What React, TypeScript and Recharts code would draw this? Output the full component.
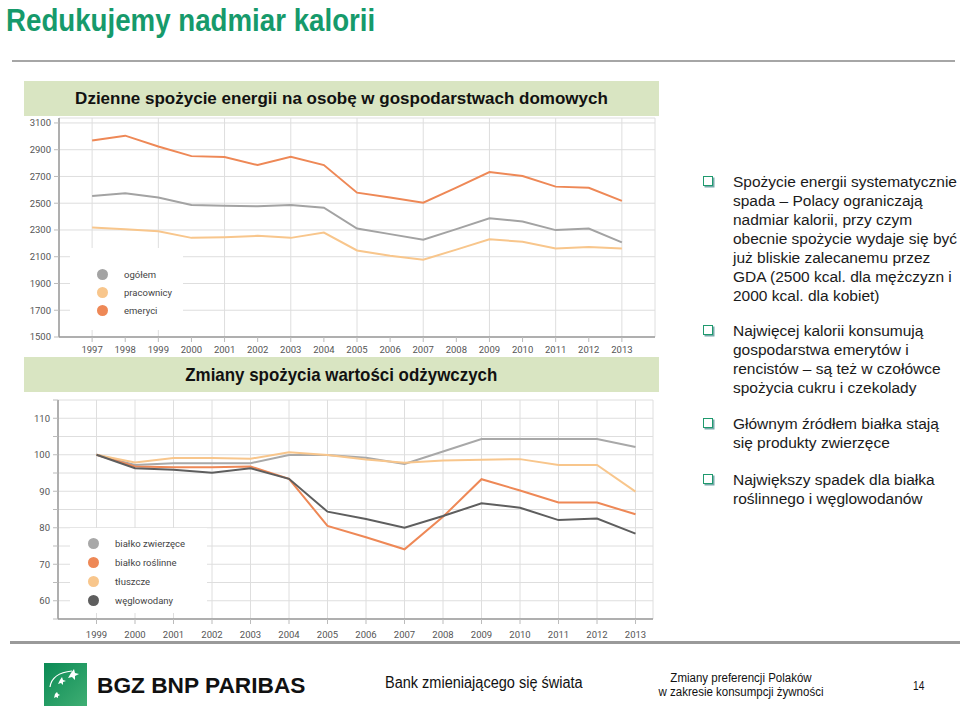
import React from "react";
import { LineChart, Line, XAxis, YAxis, CartesianGrid } from "recharts";

// --- energy intake per person (kcal / day) ---
const years1 = [1997, 1998, 1999, 2000, 2001, 2002, 2003, 2004, 2005, 2006, 2007, 2008, 2009, 2010, 2011, 2012, 2013];
const ogolem = [2554, 2574, 2542, 2487, 2482, 2477, 2487, 2467, 2311, 2269, 2227, 2306, 2388, 2363, 2299, 2311, 2207];
const pracownicy = [2318, 2306, 2291, 2241, 2246, 2256, 2241, 2281, 2147, 2107, 2078, 2153, 2230, 2212, 2162, 2172, 2162];
const emeryci = [2968, 3005, 2924, 2852, 2845, 2785, 2847, 2785, 2579, 2542, 2504, 2617, 2733, 2703, 2624, 2616, 2517];
const energyTicks = [1500, 1700, 1900, 2100, 2300, 2500, 2700, 2900, 3100];

// --- nutrient intake index (1999 = 100) ---
const years2 = [1999, 2000, 2001, 2002, 2003, 2004, 2005, 2006, 2007, 2008, 2009, 2010, 2011, 2012, 2013];
const bialkoZwierzece = [100, 97.2, 97.7, 97.7, 97.7, 99.9, 99.9, 99.2, 97.5, 100.9, 104.3, 104.3, 104.3, 104.3, 102.1];
const bialkoRoslinne = [100, 96.8, 96.6, 96.6, 96.8, 93.4, 80.5, 77.4, 74.1, 83.0, 93.3, 90.2, 86.9, 86.9, 83.7];
const tluszcze = [100, 97.9, 99.1, 99.1, 98.9, 100.7, 99.9, 98.7, 97.8, 98.4, 98.6, 98.8, 97.2, 97.2, 89.9];
const weglowodany = [100, 96.3, 95.9, 95.1, 96.3, 93.4, 84.4, 82.4, 80.0, 83.2, 86.7, 85.5, 82.1, 82.5, 78.4];
const indexTicks = [55, 60, 65, 70, 75, 80, 85, 90, 95, 100, 105, 110, 115];

const energyData = years1.map((year, i) => ({
  year,
  ogolem: ogolem[i],
  pracownicy: pracownicy[i],
  emeryci: emeryci[i],
}));

const nutrientData = years2.map((year, i) => ({
  year,
  zwierzece: bialkoZwierzece[i],
  roslinne: bialkoRoslinne[i],
  tluszcze: tluszcze[i],
  weglowodany: weglowodany[i],
}));

const energySeries = [
  { key: "ogolem", label: "ogółem", color: "#a3a3a3" },
  { key: "pracownicy", label: "pracownicy", color: "#f8c68c" },
  { key: "emeryci", label: "emeryci", color: "#ee8856" },
];

const nutrientSeries = [
  { key: "zwierzece", label: "białko zwierzęce", color: "#a8a8a8" },
  { key: "roslinne", label: "białko roślinne", color: "#ee8856" },
  { key: "tluszcze", label: "tłuszcze", color: "#f8c68c" },
  { key: "weglowodany", label: "węglowodany", color: "#5e5e5e" },
];

const bullets = [
  ["Spożycie energii systematycznie", "spada – Polacy ograniczają", "nadmiar kalorii, przy czym", "obecnie spożycie wydaje się być", "już bliskie zalecanemu przez", "GDA (2500 kcal. dla mężczyzn i", "2000 kcal. dla kobiet)"],
  ["Najwięcej kalorii konsumują", "gospodarstwa emerytów i", "rencistów – są też w czołówce", "spożycia cukru i czekolady"],
  ["Głównym źródłem białka stają", "się produkty zwierzęce"],
  ["Największy spadek dla białka", "roślinnego i węglowodanów"],
];
const bulletTops = [172, 321, 414, 470];

const chartFont = "Roboto, 'DejaVu Sans', sans-serif";
const tickStyle = { fontSize: 9.5, fill: "#555", fontFamily: chartFont };

function SeriesLegend({ items, gap, left, top, width, height, padLeft, padTop }: {
  items: { label: string; color: string }[];
  gap: number; left: number; top: number; width: number; height: number; padLeft: number; padTop: number;
}) {
  return (
    <div style={{ position: "absolute", left, top, width, height, background: "#fff", paddingLeft: padLeft, paddingTop: padTop, boxSizing: "border-box" }}>
      {items.map((s) => (
        <div key={s.label} style={{ display: "flex", alignItems: "center", height: gap }}>
          <span style={{ width: 11, height: 11, borderRadius: "50%", background: s.color, display: "inline-block", flex: "none" }} />
          <span style={{ marginLeft: 16, fontSize: 9.5, color: "#444", fontFamily: chartFont, whiteSpace: "nowrap" }}>{s.label}</span>
        </div>
      ))}
    </div>
  );
}

function GreenBar({ top, text, size, scale }: { top: number; text: string; size: number; scale: number }) {
  return (
    <div style={{ position: "absolute", left: 24, top, width: 635, height: 35, background: "#d9e5c2", display: "flex", alignItems: "center", justifyContent: "center" }}>
      <span style={{ fontFamily: "'Liberation Sans', Arial, sans-serif", fontWeight: 700, fontSize: size, color: "#111", transform: `scaleX(${scale})`, whiteSpace: "nowrap" }}>{text}</span>
    </div>
  );
}

export default function App() {
  return (
    <div style={{ position: "absolute", left: 0, top: 0, width: 960, height: 708, background: "#fff", overflow: "hidden", fontFamily: "'Liberation Sans', Arial, sans-serif" }}>
      <div style={{ position: "absolute", left: 6, top: 2, fontSize: 32, lineHeight: "36px", fontWeight: 700, color: "#169a6b", transform: "scaleX(0.865)", transformOrigin: "left top", whiteSpace: "nowrap" }}>
        Redukujemy nadmiar kalorii
      </div>
      <div style={{ position: "absolute", left: 12, top: 60, width: 943, height: 2, background: "#a6a6a6" }} />

      <GreenBar top={81} text="Dzienne spożycie energii na osobę w gospodarstwach domowych" size={17} scale={1} />

      <div style={{ position: "absolute", left: 0, top: 110 }}>
        <LineChart width={670} height={255} data={energyData} margin={{ top: 8, right: 15, bottom: 0, left: 0 }}>
          <CartesianGrid stroke="#dedede" strokeWidth={1} />
          <XAxis
            dataKey="year"
            type="number"
            height={28}
            domain={[1996.42, 2013.67]}
            ticks={years1}
            allowDecimals={false}
            tick={tickStyle}
            tickSize={5}
            tickMargin={4}
            axisLine={{ stroke: "#9a9a9a", strokeWidth: 1.5 }}
            tickLine={{ stroke: "#bbb" }}
          />
          <YAxis
            width={59}
            domain={[1500, 3137]}
            ticks={energyTicks}
            allowDataOverflow
            tick={tickStyle}
            tickSize={5}
            tickMargin={3}
            axisLine={{ stroke: "#9a9a9a", strokeWidth: 1.5 }}
            tickLine={{ stroke: "#bbb" }}
          />
          {energySeries.map((s) => (
            <Line key={s.key} dataKey={s.key} name={s.label} stroke={s.color} strokeWidth={2} dot={false} type="linear" isAnimationActive={false} />
          ))}
        </LineChart>
      </div>
      <SeriesLegend items={energySeries} gap={18} left={70} top={248} width={113} height={82} padLeft={27} padTop={17} />

      <GreenBar top={357} text="Zmiany spożycia wartości odżywczych" size={19} scale={0.89} />

      <div style={{ position: "absolute", left: 0, top: 395 }}>
        <LineChart width={670} height={260} data={nutrientData} margin={{ top: 5, right: 17, bottom: 0, left: 0 }}>
          <CartesianGrid stroke="#dedede" strokeWidth={1} />
          <XAxis
            dataKey="year"
            type="number"
            height={36}
            domain={[1998.445, 2013.454]}
            ticks={years2}
            allowDecimals={false}
            tick={tickStyle}
            tickSize={5}
            tickMargin={7}
            axisLine={{ stroke: "#9a9a9a", strokeWidth: 1.5 }}
            tickLine={{ stroke: "#bbb" }}
          />
          <YAxis
            width={58}
            domain={[55, 115]}
            ticks={indexTicks}
            tickFormatter={(v: number) => (v % 10 === 0 ? String(v) : "")}
            tick={tickStyle}
            tickSize={5}
            tickMargin={3}
            axisLine={{ stroke: "#9a9a9a", strokeWidth: 1.5 }}
            tickLine={{ stroke: "#bbb" }}
          />
          {nutrientSeries.map((s) => (
            <Line key={s.key} dataKey={s.key} name={s.label} stroke={s.color} strokeWidth={2} dot={false} type="linear" isAnimationActive={false} />
          ))}
        </LineChart>
      </div>
      <SeriesLegend items={nutrientSeries} gap={19} left={70} top={528} width={137} height={85} padLeft={18} padTop={6} />

      <div style={{ position: "absolute", left: 10, top: 641, width: 950, height: 3, background: "#9a9a9a" }} />

      {bullets.map((lines, i) => (
        <div key={i} style={{ position: "absolute", left: 703, top: bulletTops[i] }}>
          <span style={{ position: "absolute", left: 0, top: 4, width: 8, height: 8, border: "1.5px solid #1f9a6e", boxShadow: "1.5px 1.5px 0 #7aa" }} />
          <div style={{ position: "absolute", left: 30, top: 0, fontSize: 15.5, lineHeight: "19px", color: "#1a1a1a", whiteSpace: "nowrap" }}>
            {lines.map((l, j) => (
              <div key={j}>{l}</div>
            ))}
          </div>
        </div>
      ))}

      {/* footer */}
      <svg style={{ position: "absolute", left: 44, top: 663 }} width={43} height={43}>
        <defs>
          <linearGradient id="logoGrad" x1="0" y1="0" x2="1" y2="1">
            <stop offset="0%" stopColor="#0b8a55" />
            <stop offset="100%" stopColor="#3fae73" />
          </linearGradient>
        </defs>
        <rect width={43} height={43} fill="url(#logoGrad)" />
        <path d="M27 10 l3 -4 l1 4 l4 1 l-4 2 l0 4 l-3 -3 l-4 1 z" fill="#fff" />
        <path d="M16 17 l2 -3 l1 3 l3 1 l-3 1 l0 3 l-2 -2 l-3 1 z" fill="#fff" />
        <path d="M11 31 l2 -2 l1 2 l2 1 l-2 1 l0 2 l-2 -1 l-2 1 z" fill="#fff" />
        <path d="M6 24 q2 -14 22 -16" stroke="#fff" strokeWidth={1.2} fill="none" />
      </svg>
      <div style={{ position: "absolute", left: 97, top: 672, fontSize: 22.7, fontWeight: 700, color: "#111", whiteSpace: "nowrap" }}>BGZ BNP PARIBAS</div>
      <div style={{ position: "absolute", left: 385, top: 674, fontSize: 16, color: "#111", transform: "scaleX(0.907)", transformOrigin: "left top", whiteSpace: "nowrap" }}>
        Bank zmieniającego się świata
      </div>
      <div style={{ position: "absolute", left: 651, top: 671, width: 180, fontSize: 12.5, lineHeight: "14px", color: "#111", textAlign: "center", transform: "scaleX(0.92)", whiteSpace: "nowrap" }}>
        <div>Zmiany preferencji Polaków</div>
        <div>w zakresie konsumpcji żywności</div>
      </div>
      <div style={{ position: "absolute", left: 913, top: 679, fontSize: 12, color: "#111", transform: "scaleX(0.85)", transformOrigin: "left top" }}>14</div>
    </div>
  );
}
